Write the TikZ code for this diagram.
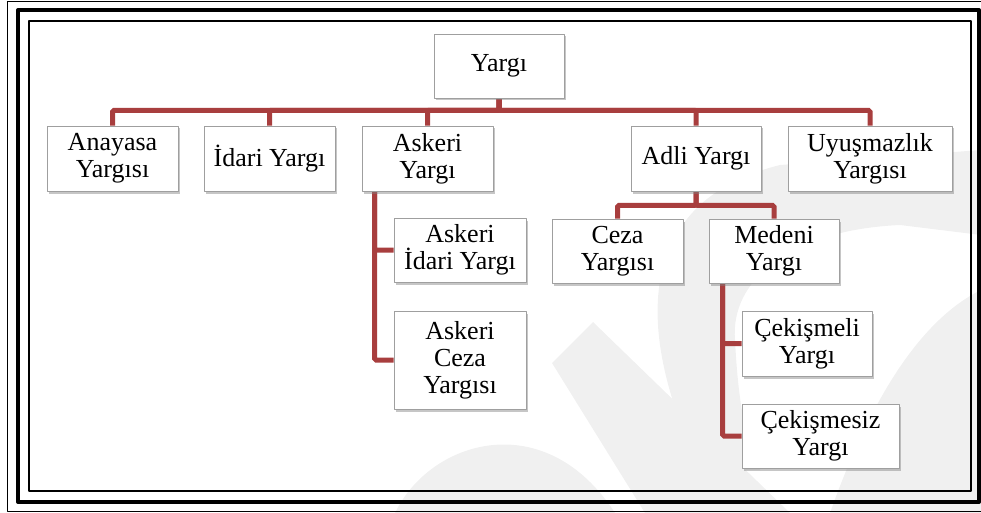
\documentclass[tikz,border=0pt]{standalone}
\usepackage{fontspec}
\setmainfont{Liberation Serif}
\usetikzlibrary{shadows,backgrounds}
\definecolor{dalred}{RGB}{168,62,62}
\definecolor{filigran}{RGB}{240,240,240}

\begin{document}
\begin{tikzpicture}[x=1pt,y=-1pt,line join=round,
 kutu/.style={draw=gray!75,fill=white,line width=.8pt,align=center,inner sep=0pt,
  minimum width=131pt,minimum height=64pt,font=\fontsize{26}{27}\selectfont,
  drop shadow={shadow xshift=1.5pt,shadow yshift=-2.5pt,opacity=.45}},
 dal/.style={draw=dalred,line width=5pt,rounded corners=1.5pt}]
 \useasboundingbox (0,0) rectangle (981,513);
 \clip (0,0) rectangle (981,513);
 % ust seviye
 \node[kutu,minimum width=130pt] (yargi) at (499,66) {Yargı};
 \node[kutu,minimum height=65pt] (anayasa) at (112.5,158.5) {Anayasa\\Yargısı};
 \node[kutu,minimum height=65pt] (idari) at (269.5,158.5) {İdari Yargı};
 \node[kutu,minimum height=65pt] (askeri) at (427.5,158.5) {Askeri\\Yargı};
 \node[kutu,minimum width=130pt,minimum height=65pt] (adli) at (696,158.5) {Adli Yargı};
 \node[kutu,minimum width=164pt,minimum height=65pt] (uyusmazlik) at (870,158.5) {Uyuşmazlık\\Yargısı};
 % alt seviye
 \node[kutu,minimum width=132pt] (askidari) at (460,250) {Askeri\\İdari Yargı};
 \node[kutu,minimum width=132pt,minimum height=98pt] (askceza) at (460,360) {Askeri\\Ceza\\Yargısı};
 \node[kutu] (ceza) at (617.5,251) {Ceza\\Yargısı};
 \node[kutu,minimum width=130pt] (medeni) at (774,251) {Medeni\\Yargı};
 \node[kutu,minimum width=130pt,minimum height=65pt] (cekismeli) at (807,343.5) {Çekişmeli\\Yargı};
 \node[kutu,minimum width=157pt] (cekismesiz) at (820.5,436) {Çekişmesiz\\Yargı};
 \begin{scope}[on background layer]
 % filigran
 \fill[filigran] (552,363)--(593,322)--(790,513)--(645,513)--cycle;
 \fill[filigran] (395,513) .. controls (430,440) and (545,405) .. (615,513)--cycle;
 \fill[filigran] (700,470) .. controls (630,320) and (640,200) .. (780,165)--(981,150)--(981,235)--(900,225)
  .. controls (790,230) and (730,280) .. (735,340) .. controls (738,400) and (745,440) .. (760,470)--cycle;
 \fill[filigran] (830,513) .. controls (870,400) and (920,320) .. (981,290)--(981,513)--cycle;
 % dallar
 \foreach \k in {anayasa,idari,askeri,adli,uyusmazlik} \draw[dal] (yargi.south)--++(0,12)-|(\k.north);
 \foreach \k in {ceza,medeni} \draw[dal] (adli.south)--++(0,14)-|(\k.north);
 \foreach \k in {askidari,askceza} \draw[dal] ([xshift=13pt]askeri.south west)|-(\k.west);
 \foreach \k in {cekismeli,cekismesiz} \draw[dal] ([xshift=14pt]medeni.south west)|-(\k.west);
 \end{scope}
 % cerceve
 \draw[line width=1pt] (990,2)--(7,2)--(7,511)--(990,511);
 \draw[line width=4pt] (18,10) rectangle (979,502);
 \draw[line width=2pt] (29,21) rectangle (971,491);
\end{tikzpicture}
\end{document}
